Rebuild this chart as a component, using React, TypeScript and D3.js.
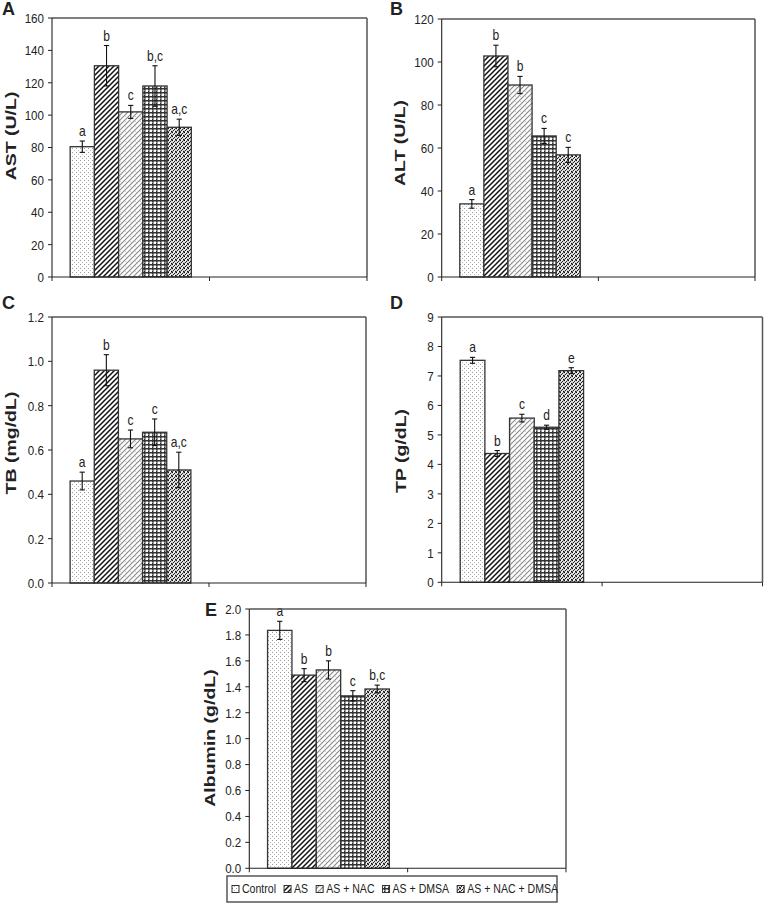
import React from "react";
import * as d3 from "d3";

const groups = ["Control", "AS", "AS + NAC", "AS + DMSA", "AS + NAC + DMSA"];
const categories = ["g1", "g2"];

const astMean = [80.5, 130.5, 102, 118, 92.5];
const astErr = [3.5, 12.5, 4, 12.5, 5];
const astLetters = ["a", "b", "c", "b,c", "a,c"];
const astTicks = [0, 20, 40, 60, 80, 100, 120, 140, 160];

const altMean = [34, 102.8, 89.3, 65.6, 56.8];
const altErr = [2, 5, 4, 3.5, 3.5];
const altLetters = ["a", "b", "b", "c", "c"];
const altTicks = [0, 20, 40, 60, 80, 100, 120];

const tbMean = [0.46, 0.96, 0.65, 0.68, 0.51];
const tbErr = [0.04, 0.07, 0.04, 0.06, 0.08];
const tbLetters = ["a", "b", "c", "c", "a,c"];
const tbTicks = [0, 0.2, 0.4, 0.6, 0.8, 1.0, 1.2];

const tpMean = [7.53, 4.37, 5.57, 5.26, 7.18];
const tpErr = [0.1, 0.1, 0.13, 0.07, 0.1];
const tpLetters = ["a", "b", "c", "d", "e"];
const tpTicks = [0, 1, 2, 3, 4, 5, 6, 7, 8, 9];

const albMean = [1.835, 1.49, 1.53, 1.33, 1.383];
const albErr = [0.07, 0.05, 0.07, 0.04, 0.03];
const albLetters = ["a", "b", "b", "c", "b,c"];
const albTicks = [0, 0.2, 0.4, 0.6, 0.8, 1.0, 1.2, 1.4, 1.6, 1.8, 2.0];

const patternIds = ["pCtrl", "pAS", "pNAC", "pDMSA", "pBoth"];

const FONT = "'Liberation Sans', Arial, sans-serif";
const SX = 0.86;

type PanelProps = {
  letter: string;
  title: string;
  means: number[];
  errs: number[];
  letters: string[];
  ticks: number[];
  fmt: (v: number) => string;
  box: { l: number; t: number; r: number; b: number };
  letterPos: [number, number];
  titlePos: [number, number];
};

function Panel(p: PanelProps) {
  const { l, t, r, b } = p.box;
  const y = d3.scaleLinear().domain([p.ticks[0], p.ticks[p.ticks.length - 1]]).range([b, t]);
  const x0 = d3.scaleBand().domain(categories).range([l, r]).padding(0);
  const x1 = d3
    .scaleBand()
    .domain(groups)
    .range([0, x0.bandwidth()])
    .paddingInner(0)
    .paddingOuter(0.75);
  const gx = x0(categories[0]) as number;
  const bw = x1.bandwidth();
  const xTicks = [l, l + x0.bandwidth(), r];
  return (
    <g>
      <text
        x={p.letterPos[0]}
        y={p.letterPos[1]}
        fontFamily={FONT}
        fontWeight="bold"
        fontSize={18}
        fill="#222"
      >
        {p.letter}
      </text>
      <text
        transform={`translate(${p.titlePos[0]},${p.titlePos[1]}) rotate(-90) scale(1,0.78)`}
        textAnchor="middle"
        fontFamily={FONT}
        fontWeight="bold"
        fontSize={19.5}
        fill="#222"
      >
        {p.title}
      </text>
      {groups.map((g, i) => {
        const bx = gx + (x1(g) as number);
        const yt = y(p.means[i]);
        const ye1 = y(p.means[i] + p.errs[i]);
        const ye0 = y(p.means[i] - p.errs[i]);
        const cx = bx + bw / 2;
        return (
          <g key={g}>
            <rect
              x={bx}
              y={yt}
              width={bw}
              height={b - yt}
              fill={`url(#${patternIds[i]})`}
              stroke="#333"
              strokeWidth={1.3}
            />
            <line x1={cx} x2={cx} y1={ye1} y2={ye0} stroke="#111" strokeWidth={1.1} />
            <line x1={cx - 2.6} x2={cx + 2.6} y1={ye1} y2={ye1} stroke="#111" strokeWidth={1.1} />
            <line x1={cx - 2.6} x2={cx + 2.6} y1={ye0} y2={ye0} stroke="#111" strokeWidth={1.1} />
            <text
              transform={`translate(${cx},${ye1 - 5}) scale(${SX},1)`}
              textAnchor="middle"
              fontFamily={FONT}
              fontSize={14}
              fill="#222"
            >
              {p.letters[i]}
            </text>
          </g>
        );
      })}
      <line x1={l} x2={r} y1={t} y2={t} stroke="#555" strokeWidth={1.5} />
      <line x1={r} x2={r} y1={t} y2={b} stroke="#555" strokeWidth={1.5} />
      <line x1={l} x2={l} y1={t} y2={b} stroke="#222" strokeWidth={1.1} />
      <line x1={l} x2={r} y1={b} y2={b} stroke="#222" strokeWidth={1.1} />
      {p.ticks.map((v) => (
        <g key={v}>
          <line x1={l - 4} x2={l} y1={y(v)} y2={y(v)} stroke="#222" strokeWidth={1} />
          <text
            transform={`translate(${l - 8},${y(v)}) scale(${SX},1)`}
            textAnchor="end"
            dy="0.36em"
            fontFamily={FONT}
            fontSize={13.5}
            fill="#222"
          >
            {p.fmt(v)}
          </text>
        </g>
      ))}
      {xTicks.map((xv, i) => (
        <line key={i} x1={xv} x2={xv} y1={b} y2={b + 4} stroke="#222" strokeWidth={1} />
      ))}
    </g>
  );
}

function Patterns() {
  return (
    <defs>
      <pattern id="pCtrl" patternUnits="userSpaceOnUse" width={4} height={4}>
        <rect width={4} height={4} fill="#fff" />
        <rect x={0} y={0} width={1} height={1} fill="#9a9a9a" />
        <rect x={2} y={2} width={1} height={1} fill="#b5b5b5" />
      </pattern>
      <pattern id="pAS" patternUnits="userSpaceOnUse" width={5} height={5}>
        <rect width={5} height={5} fill="#fff" />
        <path d="M-1,1 L1,-1 M0,5 L5,0 M4,6 L6,4" stroke="#111" strokeWidth={1.5} />
      </pattern>
      <pattern id="pNAC" patternUnits="userSpaceOnUse" width={5} height={5}>
        <rect width={5} height={5} fill="#fff" />
        <path d="M-1,1 L1,-1 M0,5 L5,0 M4,6 L6,4" stroke="#8a8a8a" strokeWidth={1.1} />
        <path d="M0,1 L2,3" stroke="#c8c8c8" strokeWidth={0.8} />
      </pattern>
      <pattern id="pDMSA" patternUnits="userSpaceOnUse" width={4} height={4}>
        <rect width={4} height={4} fill="#333" />
        <rect x={1.5} y={1.5} width={2.5} height={2.5} fill="#fff" />
        <rect x={0} y={2} width={1.5} height={1} fill="#888" />
      </pattern>
      <pattern id="pBoth" patternUnits="userSpaceOnUse" width={4} height={4}>
        <rect width={4} height={4} fill="#d8d8d8" />
        <rect x={0} y={0} width={1} height={1} fill="#111" />
        <rect x={2} y={1} width={1} height={1} fill="#222" />
        <rect x={1} y={2} width={1} height={1} fill="#222" />
        <rect x={3} y={3} width={1} height={1} fill="#111" />
        <rect x={3} y={0} width={1} height={1} fill="#666" />
        <rect x={0} y={3} width={1} height={1} fill="#555" />
        <rect x={2} y={3} width={1} height={1} fill="#fff" />
        <rect x={1} y={0} width={1} height={1} fill="#fff" />
      </pattern>
    </defs>
  );
}

function measure(text: string, size: number) {
  if (typeof document === "undefined") return text.length * size * 0.55;
  const c = document.createElement("canvas").getContext("2d");
  if (!c) return text.length * size * 0.55;
  c.font = `${size}px 'Liberation Sans', Arial, sans-serif`;
  return c.measureText(text).width;
}

function Legend() {
  const bx = 227;
  const by = 876;
  const bwid = 330;
  const bh = 26;
  const fs = 12;
  const sw = 7;
  const items: { x: number; label: string; i: number }[] = [];
  let cx = bx + 5;
  groups.forEach((g, i) => {
    items.push({ x: cx, label: g, i });
    cx += sw + 3 + measure(g, fs) * 0.88 + 8;
  });
  const cy = by + bh / 2;
  return (
    <g>
      <rect x={bx} y={by} width={bwid} height={bh} fill="#fff" stroke="#555" strokeWidth={1.5} />
      {items.map((it) => (
        <g key={it.label}>
          <rect
            x={it.x}
            y={cy - sw / 2}
            width={sw}
            height={sw}
            fill={`url(#${patternIds[it.i]})`}
            stroke="#333"
            strokeWidth={1}
          />
          <text
            transform={`translate(${it.x + sw + 3},${cy}) scale(0.88,1)`}
            dy="0.36em"
            fontFamily={FONT}
            fontSize={fs}
            fill="#222"
          >
            {it.label}
          </text>
        </g>
      ))}
    </g>
  );
}

const f0 = (v: number) => d3.format("d")(v);
const f1 = (v: number) => d3.format(".1f")(v);

export default function App() {
  return (
    <svg
      width={764}
      height={909}
      style={{ position: "absolute", left: 0, top: 0, background: "#fff" }}
    >
      <Patterns />
      <rect width={764} height={909} fill="#fff" />
      <Panel
        letter="A"
        title="AST (U/L)"
        means={astMean}
        errs={astErr}
        letters={astLetters}
        ticks={astTicks}
        fmt={f0}
        box={{ l: 52, t: 18, r: 367, b: 277 }}
        letterPos={[2, 15]}
        titlePos={[16, 136]}
      />
      <Panel
        letter="B"
        title="ALT (U/L)"
        means={altMean}
        errs={altErr}
        letters={altLetters}
        ticks={altTicks}
        fmt={f0}
        box={{ l: 441.7, t: 19, r: 755, b: 277 }}
        letterPos={[390, 15]}
        titlePos={[405, 143]}
      />
      <Panel
        letter="C"
        title="TB (mg/dL)"
        means={tbMean}
        errs={tbErr}
        letters={tbLetters}
        ticks={tbTicks}
        fmt={f1}
        box={{ l: 52, t: 317, r: 366, b: 583 }}
        letterPos={[2, 309]}
        titlePos={[16, 443]}
      />
      <Panel
        letter="D"
        title="TP (g/dL)"
        means={tpMean}
        errs={tpErr}
        letters={tpLetters}
        ticks={tpTicks}
        fmt={f0}
        box={{ l: 441.7, t: 317, r: 762.5, b: 582.3 }}
        letterPos={[390, 309]}
        titlePos={[406, 451]}
      />
      <Panel
        letter="E"
        title="Albumin (g/dL)"
        means={albMean}
        errs={albErr}
        letters={albLetters}
        ticks={albTicks}
        fmt={f1}
        box={{ l: 249.3, t: 609, r: 566, b: 868.3 }}
        letterPos={[205, 616]}
        titlePos={[215, 738]}
      />
      <Legend />
    </svg>
  );
}
